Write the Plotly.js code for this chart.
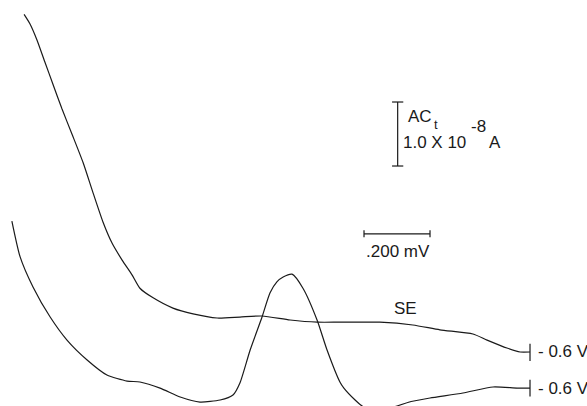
<!DOCTYPE html>
<html>
<head>
<meta charset="utf-8">
<script src="https://cdn.plot.ly/plotly-3.0.1.min.js"></script>
<style>html,body{margin:0;padding:0;background:#fff;}#chart{width:587px;height:406px;}</style>
</head>
<body>
<div id="chart"></div>
<script>
// Potential in mV, current in nA (1.0 x 10^-8 A = 10 nA)
const seLabel = "SE";
const sePotential = [933, 915, 894, 870, 845, 818, 788, 754, 724, 694, 667, 636, 606, 582, 542, 482, 421, 348, 279, 212, 127, 45, -24, -145, -245, -327, -427, -470, -530, -570, -600];
const seCurrent   = [61.2, 59.7, 57.2, 53.75, 50.2, 46.4, 42.5, 38.0, 33.3, 28.75, 25.5, 22.8, 20.5, 18.4, 16.9, 15.3, 14.4, 13.75, 13.9, 14.06, 13.44, 13.1, 13.1, 13.1, 12.66, 11.9, 11.25, 10.3, 9.06, 8.44, 8.44];

const lowPotential = [970, 945, 906, 854, 803, 742, 682, 621, 582, 521, 460, 400, 339, 300, 279, 248, 212, 188, 167, 148, 121, 88, 45, 15, -24, -36, -70, -94, -140, -185, -240, -297, -397, -488, -561, -600];
const lowCurrent   = [28.9, 23.3, 18.6, 13.9, 10.3, 7.19, 4.84, 3.9, 3.75, 2.8, 1.4, 0.62, 0.94, 1.72, 3.6, 8.75, 13.9, 17.66, 19.4, 20.16, 20.6, 18.4, 13.4, 8.75, 3.75, 2.8, 0.94, -0.1, -0.95, -0.2, 0.7, 1.25, 2.03, 2.97, 2.8, 2.8];

const endLabel = "- 0.6 V";
const currentBar = 10;      // nA  (1.0 x 10^-8 A)
const potentialBar = 200;   // mV
const currentBarText = ["AC", "t", "1.0 X 10", "-8", "A"];
const potentialBarText = ".200 mV";

const ink = "#1a1a1a";
const fnt = {family: "Liberation Sans, Arial, sans-serif", size: 17, color: ink};

const traces = [
  {x: sePotential, y: seCurrent, mode: "lines", line: {color: ink, width: 1.2, shape: "spline", smoothing: 0.6}, hoverinfo: "skip"},
  {x: lowPotential, y: lowCurrent, mode: "lines", line: {color: ink, width: 1.2, shape: "spline", smoothing: 0.6}, hoverinfo: "skip"}
];

const seEndX = sePotential[sePotential.length - 1], seEndY = seCurrent[seCurrent.length - 1];
const lowEndX = lowPotential[lowPotential.length - 1], lowEndY = lowCurrent[lowCurrent.length - 1];

// scale bar anchors
const acX = -199, acBottom = 37.5;
const mvLeft = -97, mvY = 26.9;

const ln = {color: ink, width: 1.2};
const shapes = [
  // end ticks
  {type: "line", x0: seEndX, x1: seEndX, y0: seEndY - 1.4, y1: seEndY + 1.3, line: ln},
  {type: "line", x0: lowEndX, x1: lowEndX, y0: lowEndY - 1.3, y1: lowEndY + 1.3, line: ln},
  // current scale bar
  {type: "line", x0: acX, x1: acX, y0: acBottom, y1: acBottom + currentBar, line: ln},
  {type: "line", x0: acX + 17, x1: acX - 17, y0: acBottom, y1: acBottom, line: ln},
  {type: "line", x0: acX + 17, x1: acX - 17, y0: acBottom + currentBar, y1: acBottom + currentBar, line: ln},
  // potential scale bar
  {type: "line", x0: mvLeft, x1: mvLeft - potentialBar, y0: mvY, y1: mvY, line: ln},
  {type: "line", x0: mvLeft, x1: mvLeft, y0: mvY - 0.55, y1: mvY + 0.55, line: ln},
  {type: "line", x0: mvLeft - potentialBar, x1: mvLeft - potentialBar, y0: mvY - 0.55, y1: mvY + 0.55, line: ln}
];

function ann(text, x, y, extra) {
  return Object.assign({text: text, x: x, y: y, xref: "x", yref: "y", showarrow: false,
    xanchor: "left", yanchor: "middle", font: fnt, borderpad: 0}, extra || {});
}

const annotations = [
  ann(currentBarText[0], -227, 45.2),
  ann(currentBarText[1], -306, 44.0, {font: Object.assign({}, fnt, {size: 13})}),
  ann(currentBarText[2], -212, 41.1),
  ann(currentBarText[3], -418, 43.6),
  ann(currentBarText[4], -473, 41.1),
  ann(potentialBarText, -100, 24.1),
  ann(seLabel, -185, 15.2),
  ann(endLabel, -621, seEndY),
  ann(endLabel, -621, lowEndY)
];

const layout = {
  width: 587, height: 406,
  margin: {l: 0, r: 0, t: 0, b: 0},
  paper_bgcolor: "#fff", plot_bgcolor: "#fff",
  showlegend: false,
  xaxis: {range: [1006, -772.7], visible: false, showgrid: false, zeroline: false},
  yaxis: {range: [0, 63.44], visible: false, showgrid: false, zeroline: false},
  shapes: shapes,
  annotations: annotations
};

Plotly.newPlot("chart", traces, layout, {staticPlot: true, displayModeBar: false});
</script>
</body>
</html>
